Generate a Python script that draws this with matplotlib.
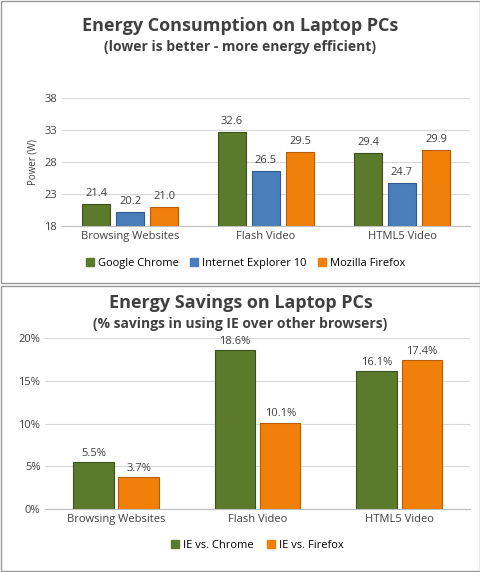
import matplotlib
matplotlib.use("Agg")
import matplotlib.pyplot as plt
from matplotlib.patches import Rectangle, Patch

cats = ["Browsing Websites", "Flash Video", "HTML5 Video"]
chrome = [21.4, 32.6, 29.4]
ie = [20.2, 26.5, 24.7]
firefox = [21.0, 29.5, 29.9]
sav_chrome = [5.5, 18.6, 16.1]
sav_firefox = [3.7, 10.1, 17.4]

G, B, O = "#5b7a2c", "#4a7ebb", "#f0800a"
EG, EB, EO = "#3d5219", "#2f5a8f", "#b85c00"
TC = "#404040"
plt.rcParams['font.family'] = ['Open Sans', 'DejaVu Sans']

fig = plt.figure(figsize=(4.81, 5.72), dpi=100)
fig.patches.append(Rectangle((0.002, 0.505), 0.996, 0.493, transform=fig.transFigure, fill=False, ec="#999999", lw=1))
fig.patches.append(Rectangle((0.002, 0.002), 0.996, 0.498, transform=fig.transFigure, fill=False, ec="#999999", lw=1))

fig.text(0.5, 0.945, "Energy Consumption on Laptop PCs", ha="center", fontsize=13, weight="bold", color=TC)
fig.text(0.5, 0.910, "(lower is better - more energy efficient)", ha="center", fontsize=10, weight="bold", color=TC)

ax = fig.add_axes([0.129, 0.605, 0.848, 0.224])
w = 0.25
x = range(3)
for off, vals, c, ec in [(-w, chrome, G, EG), (0, ie, B, EB), (w, firefox, O, EO)]:
    ax.bar([i + off for i in x], [v - 18 for v in vals], bottom=18, width=w * 0.85, color=c, edgecolor=ec, lw=0.8)
    for i, v in enumerate(vals):
        ax.text(i + off, v + 0.8, f"{v:.1f}", ha="center", va="bottom", fontsize=8, color=TC)
ax.set_ylim(18, 38)
ax.set_yticks([18, 23, 28, 33, 38])
ax.set_xlim(-0.5, 2.5)
ax.set_xticks(list(x))
ax.set_xticklabels(cats)
ax.set_ylabel("Power (W)", fontsize=7, color=TC)
ax.grid(axis="y", color="#d9d9d9", lw=0.8)
ax.set_axisbelow(True)
for s in ["top", "right", "left"]:
    ax.spines[s].set_visible(False)
ax.spines["bottom"].set_color("#bfbfbf")
ax.tick_params(length=0, labelsize=8, colors=TC)
ax.legend(handles=[Patch(color=G, label="Google Chrome"), Patch(color=B, label="Internet Explorer 10"), Patch(color=O, label="Mozilla Firefox")],
          loc="upper center", bbox_to_anchor=(0.45, -0.17), ncol=3, frameon=False, fontsize=8, handlelength=0.7, handleheight=0.7, columnspacing=1.0, handletextpad=0.4)

fig.text(0.5, 0.462, "Energy Savings on Laptop PCs", ha="center", fontsize=13, weight="bold", color=TC)
fig.text(0.5, 0.426, "(% savings in using IE over other browsers)", ha="center", fontsize=10, weight="bold", color=TC)

ax2 = fig.add_axes([0.094, 0.110, 0.883, 0.299])
w2 = 0.3
for off, vals, c, ec in [(-w2 / 2 - 0.01, sav_chrome, G, EG), (w2 / 2 + 0.01, sav_firefox, O, EO)]:
    ax2.bar([i + off for i in x], [v / 100 for v in vals], width=w2 * 0.95, color=c, edgecolor=ec, lw=0.8)
    for i, v in enumerate(vals):
        ax2.text(i + off, v / 100 + 0.004, f"{v:.1f}%", ha="center", va="bottom", fontsize=8, color=TC)
ax2.set_ylim(0, 0.2)
ax2.set_yticks([0, 0.05, 0.10, 0.15, 0.20])
ax2.set_yticklabels(["0%", "5%", "10%", "15%", "20%"])
ax2.set_xlim(-0.5, 2.5)
ax2.set_xticks(list(x))
ax2.set_xticklabels(cats)
ax2.grid(axis="y", color="#d9d9d9", lw=0.8)
ax2.set_axisbelow(True)
for s in ["top", "right", "left"]:
    ax2.spines[s].set_visible(False)
ax2.spines["bottom"].set_color("#bfbfbf")
ax2.tick_params(length=0, labelsize=8, colors=TC)
ax2.legend(handles=[Patch(color=G, label="IE vs. Chrome"), Patch(color=O, label="IE vs. Firefox")],
           loc="upper center", bbox_to_anchor=(0.5, -0.12), ncol=2, frameon=False, fontsize=8, handlelength=0.7, handleheight=0.7, columnspacing=1.2, handletextpad=0.4)

fig.savefig("out.png", dpi=100)
